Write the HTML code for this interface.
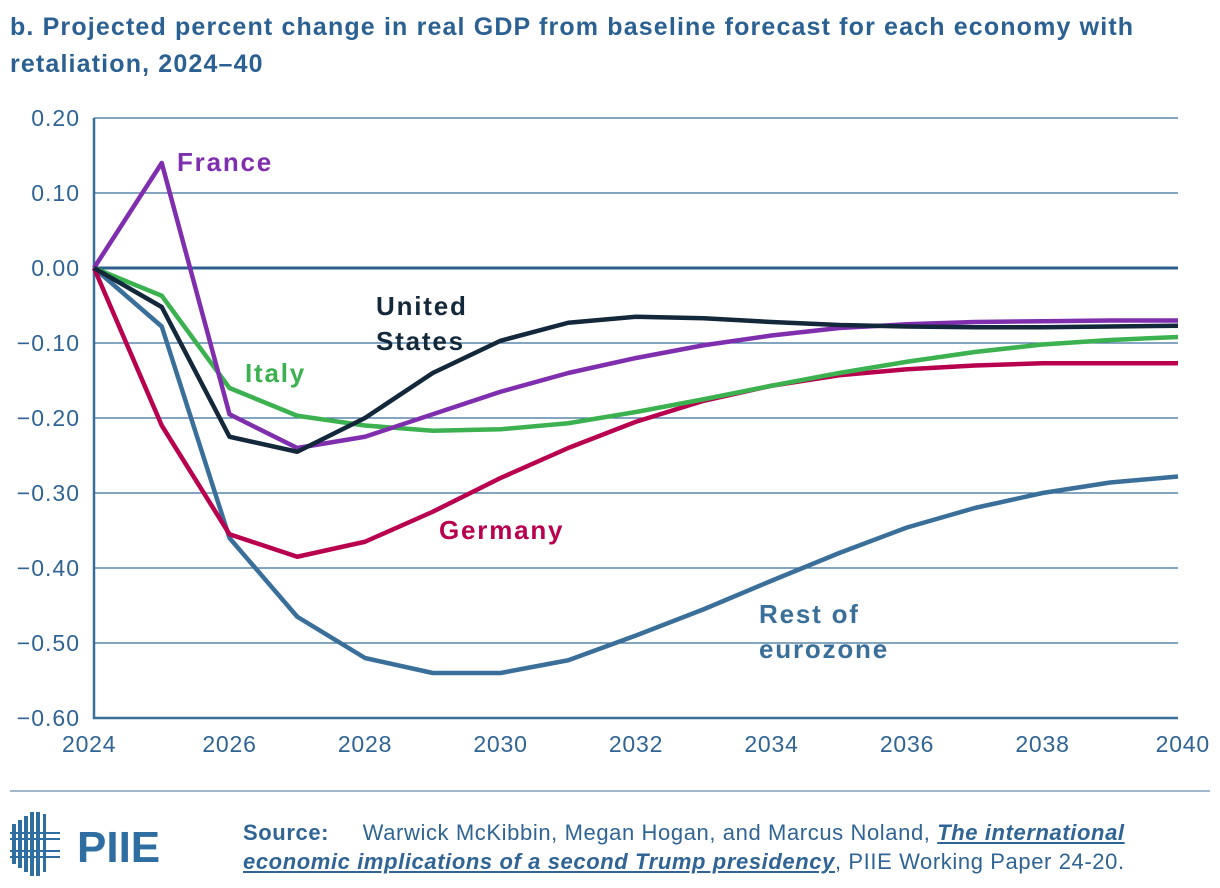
<!DOCTYPE html>
<html><head><meta charset="utf-8">
<style>
body{margin:0;width:1220px;height:888px;background:#fff;font-family:"Liberation Sans",sans-serif;overflow:hidden}
svg{position:absolute;left:0;top:0}
</style></head><body>
<svg width="1220" height="888">
<g id="g"></g>
</svg>
<script>
const years=[2024,2025,2026,2027,2028,2029,2030,2031,2032,2033,2034,2035,2036,2037,2038,2039,2040];
const xTicks=[2024,2026,2028,2030,2032,2034,2036,2038,2040];
const yTicks=[0.2,0.1,0,-0.1,-0.2,-0.3,-0.4,-0.5,-0.6];
const yTickLabels=["0.20","0.10","0.00","\u22120.10","\u22120.20","\u22120.30","\u22120.40","\u22120.50","\u22120.60"];
const france=[0,0.14,-0.195,-0.24,-0.225,-0.195,-0.165,-0.14,-0.12,-0.103,-0.09,-0.08,-0.075,-0.072,-0.071,-0.07,-0.07];
const us=[0,-0.052,-0.225,-0.245,-0.2,-0.14,-0.097,-0.073,-0.065,-0.067,-0.072,-0.076,-0.078,-0.079,-0.079,-0.078,-0.077];
const italy=[0,-0.037,-0.16,-0.197,-0.21,-0.217,-0.215,-0.207,-0.192,-0.175,-0.157,-0.14,-0.125,-0.112,-0.102,-0.096,-0.092];
const germany=[0,-0.21,-0.355,-0.385,-0.365,-0.325,-0.28,-0.24,-0.205,-0.177,-0.157,-0.143,-0.135,-0.13,-0.127,-0.127,-0.127];
const rest=[0,-0.078,-0.36,-0.465,-0.52,-0.54,-0.54,-0.523,-0.49,-0.455,-0.417,-0.38,-0.346,-0.32,-0.3,-0.286,-0.278];

const NS="http://www.w3.org/2000/svg";
const g=document.getElementById('g');
const X=y=>94+(y-2024)*(1084/16);
const Y=v=>268-v*750;
function mk(t,a,txt){const e=document.createElementNS(NS,t);for(const k in a)e.setAttribute(k,a[k]);if(txt!=null)e.textContent=txt;g.appendChild(e);return e;}
const axc="#2f6494";
function T(x,y,s,o){return Object.assign({x:x,y:y,'font-size':s,fill:axc,'font-family':'Liberation Sans, sans-serif'},o||{});}

let e;
e=mk('text',T(10,35,25,{'font-weight':'bold',fill:'#2b6192','letter-spacing':'1.15'}),'b. Projected percent change in real GDP from baseline forecast for each economy with');

e=mk('text',T(10,72,25,{'font-weight':'bold',fill:'#2b6192','letter-spacing':'1.15'}),'retaliation, 2024\u201340');


yTicks.forEach((v,i)=>{
 if(v!==0&&v!==-0.6){e=mk('line',{x1:94,x2:1178,y1:Y(v),y2:Y(v),stroke:'#3a6f9a','stroke-width':1.2});
 }
 e=mk('text',T(80,Y(v)+8,23,{'text-anchor':'end','letter-spacing':'1'}),yTickLabels[i]);
 
});
xTicks.forEach(v=>{
 let anc=v===2024?'start':(v===2040?'end':'middle');let xx=v===2024?62:(v===2040?1210:X(v));
 e=mk('text',T(xx,752,23,{'text-anchor':anc,'letter-spacing':'0.8'}),String(v));
 
});
e=mk('line',{x1:94,x2:94,y1:118,y2:719,stroke:'#3a6f9a','stroke-width':2.5});

e=mk('line',{x1:93,x2:1178,y1:Y(-0.6),y2:Y(-0.6),stroke:'#3a6f9a','stroke-width':2.5});

e=mk('line',{x1:94,x2:1178,y1:Y(0),y2:Y(0),stroke:'#2e5f8c','stroke-width':3});


const series=[[rest,'#3a6f9a','series-rest-of-eurozone'],[germany,'#b8004f','series-germany'],[italy,'#3bb150','series-italy'],[france,'#7f2fae','series-france'],[us,'#13283a','series-united-states']];
series.forEach(s=>{
 e=mk('polyline',{points:s[0].map((v,i)=>X(years[i])+','+Y(v)).join(' '),fill:'none',stroke:s[1],'stroke-width':4.5,'stroke-linejoin':'round'});
 
});
const labels=[[177,171,'France','#7f2fae'],[376,315,'United','#13283a'],[376,350,'States','#13283a'],[245,382,'Italy','#3bb150'],[439,539,'Germany','#b8004f'],[759,623,'Rest of','#3a6f9a'],[759,658,'eurozone','#3a6f9a']];
labels.forEach(l=>{
 e=mk('text',{x:l[0],y:l[1],'font-size':26,'font-weight':'bold',fill:l[3],'font-family':'Liberation Sans, sans-serif','letter-spacing':'1.8'},l[2]);
 
});
e=mk('line',{x1:10,x2:1210,y1:791,y2:791,stroke:'#9fb8cc','stroke-width':2});

// logo
const lg=document.createElementNS(NS,'g');g.appendChild(lg);
[[12,824,4,40],[18,820,4,48],[24,816,4,56],[30,812,4,64],[36,812,4,64],[43,814,3,58]].forEach(r=>{const q=document.createElementNS(NS,'rect');q.setAttribute('x',r[0]);q.setAttribute('y',r[1]);q.setAttribute('width',r[2]);q.setAttribute('height',r[3]);q.setAttribute('fill','#2f6ea1');lg.appendChild(q);});
[[832],[838],[850],[856]].forEach(r=>{const q=document.createElementNS(NS,'rect');q.setAttribute('x',10);q.setAttribute('y',r[0]);q.setAttribute('width',50);q.setAttribute('height',2);q.setAttribute('fill','#2f6ea1');lg.appendChild(q);});
const pt=document.createElementNS(NS,'text');pt.setAttribute('x',77);pt.setAttribute('y',862);pt.setAttribute('font-size',44);pt.setAttribute('font-weight','bold');pt.setAttribute('fill','#2f6ea1');pt.setAttribute('font-family','Liberation Sans, sans-serif');pt.textContent='PIIE';lg.appendChild(pt);
</script>
<div style="position:absolute;left:243px;top:818px;width:915px;font-size:22px;line-height:29px;letter-spacing:0.6px;color:#2f6494">
<b>Source:</b>&nbsp;&nbsp;&nbsp;&nbsp; Warwick McKibbin, Megan Hogan, and Marcus Noland, <a style="color:#2f6494;font-weight:bold;font-style:italic;text-decoration:underline">The international economic implications of a second Trump presidency</a>, PIIE Working Paper 24-20.
</div>
</body></html>
